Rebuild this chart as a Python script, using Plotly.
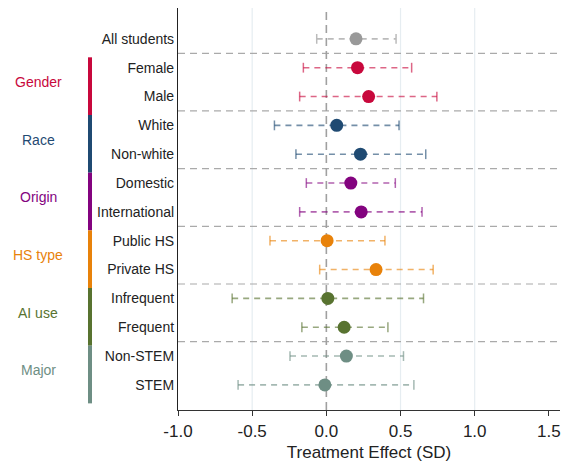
import plotly.graph_objects as go

# Subgroup rows, top to bottom
rows = ["All students", "Female", "Male", "White", "Non-white", "Domestic",
        "International", "Public HS", "Private HS", "Infrequent", "Frequent",
        "Non-STEM", "STEM"]
estimate = [0.20, 0.21, 0.285, 0.07, 0.23, 0.165, 0.235, 0.005, 0.335, 0.01, 0.12, 0.135, -0.01]
ci_low = [-0.065, -0.155, -0.18, -0.35, -0.205, -0.135, -0.18, -0.38, -0.045, -0.635, -0.165, -0.245, -0.595]
ci_high = [0.47, 0.575, 0.745, 0.49, 0.67, 0.465, 0.645, 0.395, 0.72, 0.655, 0.415, 0.52, 0.59]

# Group names, the rows that belong to each, and colours
group_names = ["Gender", "Race", "Origin", "HS type", "AI use", "Major"]
group_rows = [["Female", "Male"], ["White", "Non-white"], ["Domestic", "International"],
              ["Public HS", "Private HS"], ["Infrequent", "Frequent"], ["Non-STEM", "STEM"]]
group_colors = ["#C8083C", "#1F4A72", "#83037F", "#E8820A", "#587330", "#6E8E84"]
overall_color = "#999999"

x_ticks = [-1.0, -0.5, 0.0, 0.5, 1.0, 1.5]
grid_values = [-0.5, 0.5, 1.0]

M_L, M_R, M_T, M_B = 178, 11, 8, 56
W, H = 571, 466
plot_w = W - M_L - M_R


def rgba(hex_color, a):
    h = hex_color.lstrip("#")
    r, g, b = int(h[0:2], 16), int(h[2:4], 16), int(h[4:6], 16)
    return f"rgba({r},{g},{b},{a})"


row_color = {"All students": overall_color}
for name, members, col in zip(group_names, group_rows, group_colors):
    for m in members:
        row_color[m] = col

fig = go.Figure()
shapes = []
annotations = []

# light vertical gridlines
for gv in grid_values:
    shapes.append(dict(type="line", xref="x", yref="paper", x0=gv, x1=gv, y0=0, y1=1,
                       line=dict(color="#E6EDF1", width=1.2), layer="below"))

# dashed separators between groups
for members in group_rows:
    first = rows.index(members[0])
    shapes.append(dict(type="line", xref="paper", yref="y", x0=0, x1=1,
                       y0=first - 0.5, y1=first - 0.5,
                       line=dict(color="#AAAAAA", width=1.2, dash="7px,5px"), layer="below"))

# reference line at zero effect
shapes.append(dict(type="line", xref="x", yref="paper", x0=0, x1=0, y0=0, y1=1,
                   line=dict(color="#A0A0A0", width=1.6, dash="8px,5px"), layer="below"))

# confidence intervals with end caps
for i, r in enumerate(rows):
    col = row_color[r]
    light = "#BBBBBB" if r == "All students" else rgba(col, 0.62)
    fig.add_trace(go.Scatter(
        x=[ci_low[i], ci_high[i]], y=[i, i], mode="lines+markers",
        line=dict(color=light, width=1.6, dash="6px,5px"),
        marker=dict(symbol="line-ns", size=7, line=dict(color=light, width=1.5)),
        showlegend=False, hoverinfo="skip"))

# point estimates
fig.add_trace(go.Scatter(
    x=estimate, y=list(range(len(rows))), mode="markers",
    marker=dict(size=13, color=[row_color[r] for r in rows], line=dict(width=0)),
    showlegend=False))

# coloured group brackets and group names, placed in the left margin
bar_x0 = -90 / plot_w
bar_x1 = -86 / plot_w
for name, members, col in zip(group_names, group_rows, group_colors):
    first = rows.index(members[0])
    last = rows.index(members[-1])
    shapes.append(dict(type="rect", xref="paper", yref="y", x0=bar_x0, x1=bar_x1,
                       y0=first - 0.36, y1=last + 0.64,
                       fillcolor=col, line=dict(width=0)))
    annotations.append(dict(xref="paper", yref="y", x=-140 / plot_w, y=(first + last) / 2,
                            text=name, showarrow=False, xanchor="center",
                            font=dict(size=14, color=col)))

fig.update_layout(
    width=W, height=H,
    margin=dict(l=M_L, r=M_R, t=M_T, b=M_B),
    paper_bgcolor="white", plot_bgcolor="white",
    font=dict(family="Liberation Sans, Arial, sans-serif", color="#222222"),
    shapes=shapes, annotations=annotations,
    xaxis=dict(range=[-1.0, 1.575], tickvals=x_ticks,
               ticktext=[f"{v:.1f}" for v in x_ticks],
               showgrid=False, zeroline=False, showline=True, linecolor="#333333",
               linewidth=1.2, ticks="outside", ticklen=5, tickcolor="#333333",
               tickfont=dict(size=17, color="#222222"),
               title=dict(text="Treatment Effect (SD)", font=dict(size=17, color="#222222"),
                          standoff=6)),
    yaxis=dict(range=[12.87, -1.07], tickvals=list(range(len(rows))), ticktext=rows,
               showgrid=False, zeroline=False, showline=True, linecolor="#222222",
               linewidth=1.2, ticks="", ticklabelstandoff=0,
               tickfont=dict(size=14, color="#222222")),
)

fig.write_html("out.html")
